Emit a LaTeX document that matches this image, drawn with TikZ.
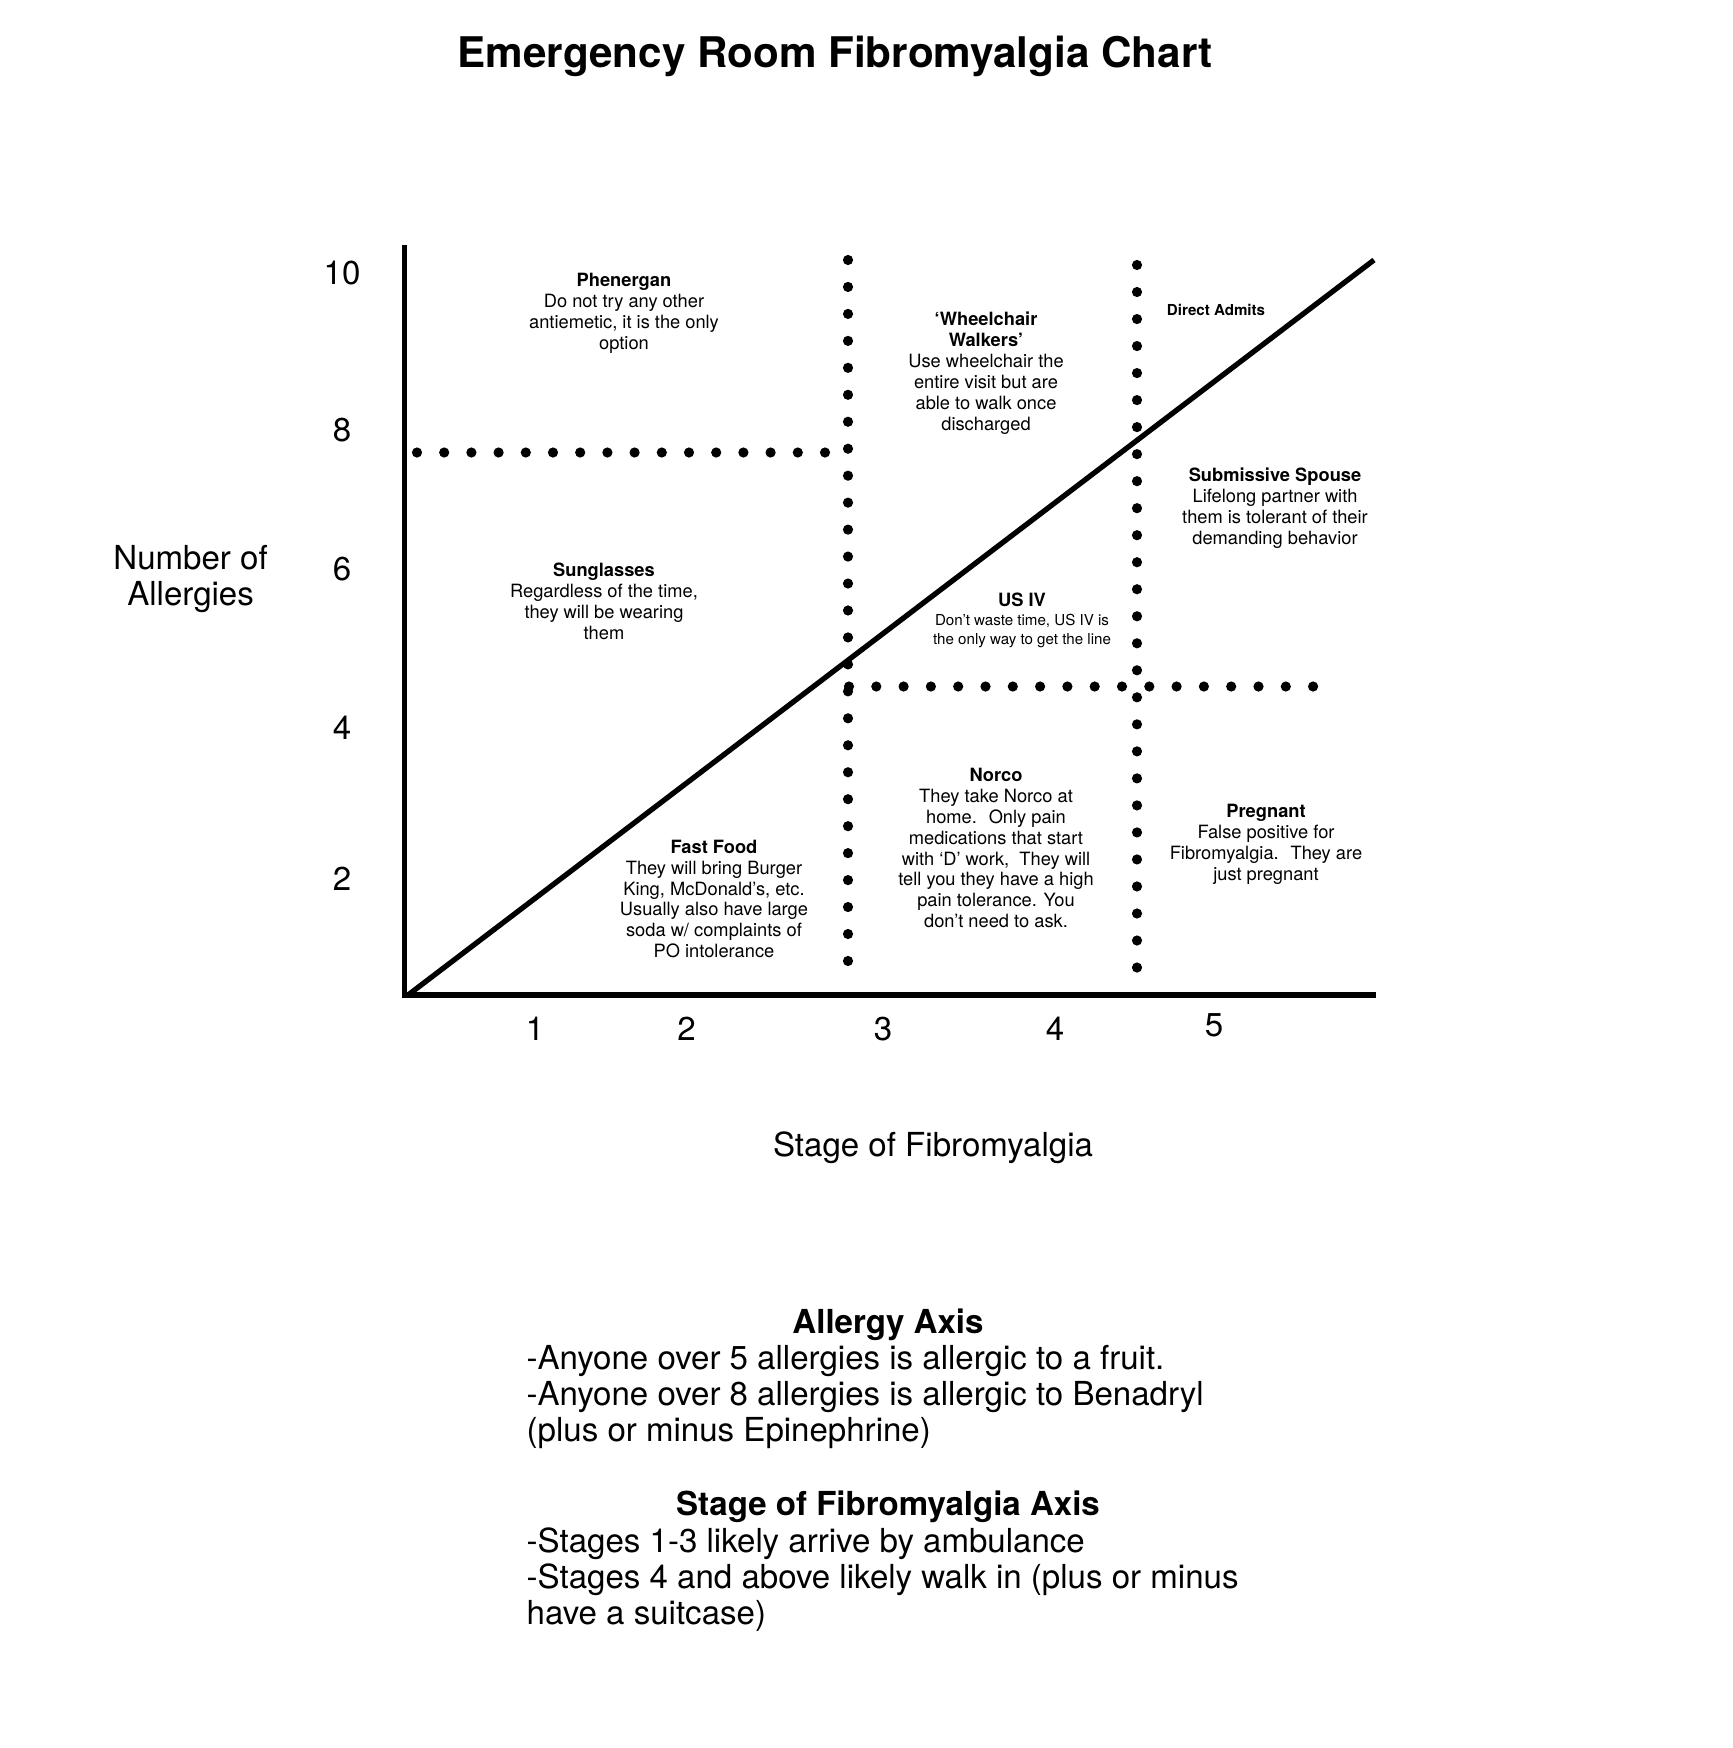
\documentclass[tikz,border=0pt]{standalone}
\usepackage{fontspec}
\setmainfont{TeX Gyre Heros}

\begin{document}
\begin{tikzpicture}[
    x=0.01cm, y=-0.01cm,
    every node/.style={inner sep=0pt},
    axislabel/.style={font=\fontsize{9.4}{10.2}\selectfont, align=center},
    zone/.style={font=\fontsize{5.2}{5.95}\selectfont, align=center},
    smallzone/.style={font=\fontsize{4.3}{5.4}\selectfont, align=center},
    axisline/.style={line width=1.5pt, line join=miter},
]

% Parameters
\def\Dot{1.45pt}

% page frame
\useasboundingbox (0,0) rectangle (1732,1748);

% === Title ===
\node[font=\fontsize{12}{14}\selectfont\bfseries] (title) at (835,56) {Emergency Room Fibromyalgia Chart};

% === Axes and diagonal ===
\coordinate (origin) at (404.5,995);
\coordinate (ytop) at (404.5,245);
\coordinate (xend) at (1376,995);
\coordinate (diagend) at (1374,260);
\draw[axisline] (ytop) -- (origin) -- (xend);
\draw[axisline] ([xshift=1]origin) -- (diagend);

% === Dotted dividers ===
% vertical between stage 2 and 3
\foreach \i in {0,...,26} {
    \fill (848,{260+\i*26.96}) circle (\Dot);
}
% vertical between stage 4 and 5
\foreach \i in {0,...,26} {
    \fill (1137,{265+\i*27.02}) circle (\Dot);
}
% horizontal at 8 allergies (left part)
\foreach \i in {0,...,15} {
    \fill ({417+\i*27.2},452.5) circle (\Dot);
}
% horizontal at 5 allergies (right part)
\foreach \i in {0,...,17} {
    \fill ({849+\i*27.3},686.5) circle (\Dot);
}

% === Tick numbers ===
\foreach \v/\yy in {10/273, 8/430, 6/569.5, 4/728, 2/879} {
    \node[axislabel] (ytick\v) at (342,\yy) {\v};
}
\foreach \v/\xx/\yy in {1/535/1029, 2/686.5/1029, 3/883/1029, 4/1055/1029, 5/1214/1025} {
    \node[axislabel] (xtick\v) at (\xx,\yy) {\v};
}

% === Axis titles ===
\node[axislabel] (ytitle) at (190.6,579) {Number of\\Allergies};
\node[axislabel] (xtitle) at (933,1148) {Stage of Fibromyalgia};

% === Zone notes ===
\node[zone] (phenergan) at (624,313) {{\bfseries Phenergan}\\Do not try any other\\antiemetic, it is the only\\option};
\node[zone] (wheelchair) at (986,373) {{\bfseries ‘Wheelchair}\\{\bfseries Walkers’}\\Use wheelchair the\\entire visit but are\\able to walk once\\discharged};
\node[smallzone, font=\fontsize{4.3}{5.4}\selectfont\bfseries] (admits) at (1216,310) {Direct Admits};
\node[zone] (spouse) at (1275,508) {{\bfseries Submissive Spouse}\\Lifelong partner with\\them is tolerant of their\\demanding behavior};
\node[zone] (sunglasses) at (604,601) {{\bfseries Sunglasses}\\Regardless of the time,\\they will be wearing\\them};
\node[smallzone] (usiv) at (1022,620) {{\fontsize{5.2}{5.95}\selectfont\bfseries US IV}\\Don’t waste time, US IV is\\the only way to get the line};
\node[zone] (norco) at (996,848) {{\bfseries Norco}\\They take Norco at\\home.~ Only pain\\medications that start\\with ‘D’ work,~ They will\\tell you they have a high\\pain tolerance. You\\don’t need to ask.};
\node[zone] (fastfood) at (714,899) {{\bfseries Fast Food}\\They will bring Burger\\King, McDonald’s, etc.\\Usually also have large\\soda w/ complaints of\\PO intolerance};
\node[zone] (pregnant) at (1266,844) {{\bfseries Pregnant}\\False positive for\\Fibromyalgia.~ They are\\just pregnant};

% === Legend below the chart ===
% (base of a multi-line node = baseline of its last line)
\node[axislabel, font=\fontsize{9.4}{10.2}\selectfont\bfseries, anchor=base] (allergyhead) at (888,1333) {Allergy Axis};
\node[axislabel, align=left, anchor=base west] (allergybody) at (526,1441)
    {-Anyone over 5 allergies is allergic to a fruit.\\-Anyone over 8 allergies is allergic to Benadryl\\(plus or minus Epinephrine)};
\node[axislabel, font=\fontsize{9.4}{10.2}\selectfont\bfseries, anchor=base] (stagehead) at (888,1515) {Stage of Fibromyalgia Axis};
\node[axislabel, align=left, anchor=base west] (stagebody) at (526,1624)
    {-Stages 1-3 likely arrive by ambulance\\-Stages 4 and above likely walk in (plus or minus\\have a suitcase)};

\end{tikzpicture}
\end{document}
